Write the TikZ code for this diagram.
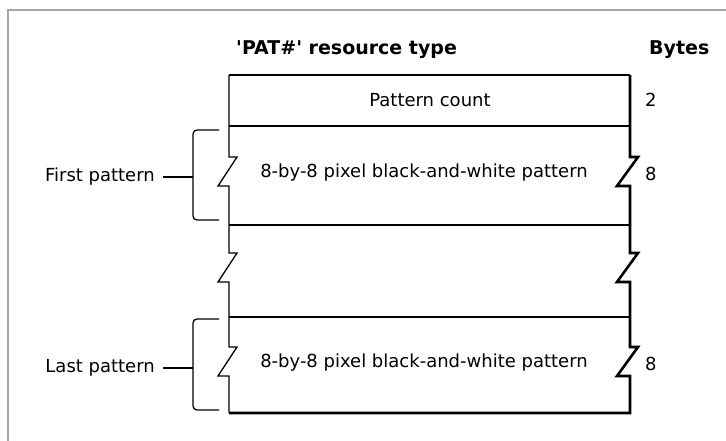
\documentclass[tikz,border=0pt]{standalone}
\usepackage{fontspec}
\setmainfont{DejaVu Sans}
\begin{document}
\begin{tikzpicture}[x=1pt,y=-1pt,
  txt/.style={font=\fontsize{18}{20}\selectfont, inner sep=0pt},
  ttl/.style={font=\fontsize{19}{21}\selectfont\bfseries, inner sep=0pt},
  lbl/.style={font=\fontsize{18}{20}\selectfont, inner xsep=8pt, inner ysep=0pt, anchor=east},
  edgeline/.style={line width=1.3pt, line join=miter},
  heavy/.style={line width=2.6pt, line join=miter},
  topline/.style={line width=1.8pt},
  rowline/.style={line width=1.2pt},
  brace/.style={line width=1.3pt, rounded corners=4pt},
  conn/.style={line width=1.3pt},
  framestyle/.style={draw=black!35, line width=2pt}]
\useasboundingbox (0,0) rectangle (726,441);
% outer frame
\draw[framestyle] (8,441) -- (8,10) -- (726,10);
% header
\node[ttl, anchor=base west] (title) at (236,55) {\textquotesingle PAT\#\textquotesingle{} resource type};
\node[ttl, anchor=base west] (bytes) at (649,55) {Bytes};
% box
\draw[topline] (229,75) -- (630,75);
\draw[rowline] (229,126) -- (630,126);
\draw[rowline] (229,225) -- (630,225);
\draw[rowline] (229,317) -- (630,317);
\draw[edgeline] (229,75) -- (229,157) -- (237,157) -- (218,186) -- (229,186)
  -- (229,253) -- (237,253) -- (218,282) -- (229,282)
  -- (229,347) -- (237,347) -- (218,376) -- (229,376) -- (229,413);
\draw[heavy] (630,75) -- (630,157) -- (638,157) -- (617,186) -- (630,186)
  -- (630,253) -- (638,253) -- (617,282) -- (630,282)
  -- (630,347) -- (638,347) -- (617,376) -- (630,376) -- (630,413) -- (229,413);
% row texts
\node[txt] (count) at (430,100) {Pattern count};
\node[txt, anchor=west] (n2) at (645,100) {2};
\node[txt] (pat1) at (424,173) {8-by-8 pixel black-and-white pattern};
\node[txt, anchor=west] (n8a) at (645,174) {8};
\node[txt] (pat2) at (424,363) {8-by-8 pixel black-and-white pattern};
\node[txt, anchor=west] (n8b) at (645,364) {8};
% braces and labels
\coordinate (br1) at (193,177);
\coordinate (br2) at (193,368);
\node[lbl] (first) at (163,177) {First pattern};
\node[lbl] (last) at (163,368) {Last pattern};
\draw[brace] (219,130) -| (br1) |- (219,220);
\draw[brace] (219,319) -| (br2) |- (219,410);
\draw[conn] (first.east) -- (br1);
\draw[conn] (last.east) -- (br2);
\end{tikzpicture}
\end{document}
